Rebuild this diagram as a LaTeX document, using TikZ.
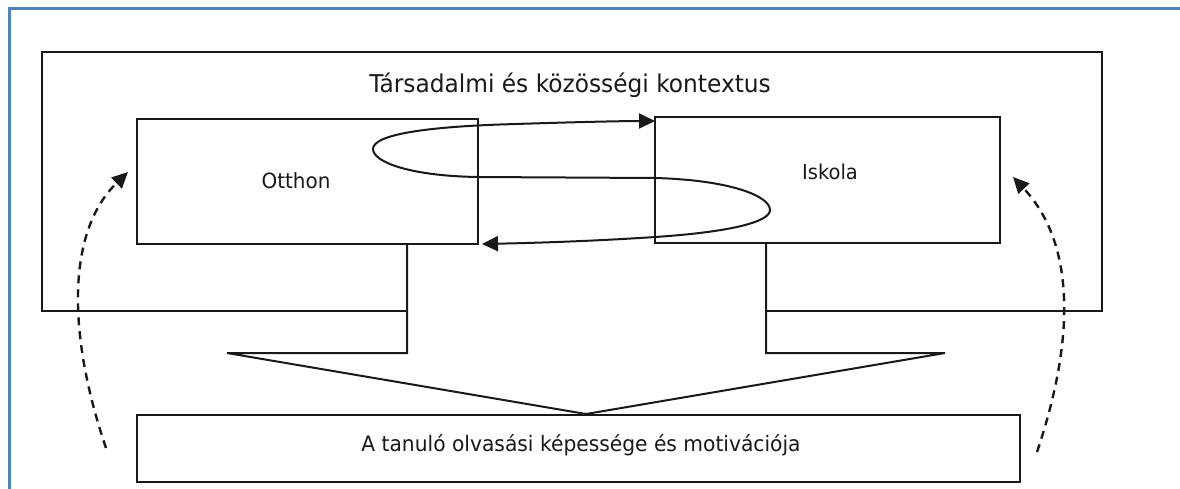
\documentclass[tikz,border=0pt]{standalone}
\usepackage{fontspec}
\setmainfont[FakeStretch=0.95]{DejaVu Sans}
\usetikzlibrary{arrows.meta}
\definecolor{frameblue}{RGB}{79,129,189}
\definecolor{ink}{RGB}{25,25,25}
\begin{document}
\begin{tikzpicture}[x=1pt,y=-1pt,
  box/.style={draw=ink, fill=white, line width=2pt, inner sep=0pt, rectangle},
  lbl/.style={anchor=base, inner sep=0pt, text=ink},
  link/.style={draw=ink, line width=2pt, {Triangle[length=16pt,width=15pt]}-{Triangle[length=16pt,width=15pt]}},
  influence/.style={draw=ink, line width=2.4pt, dash pattern=on 8pt off 6pt, -{Triangle[length=16pt,width=15pt]}},
  bigarrow/.style={draw=ink, line width=2pt, line join=miter}]
\useasboundingbox (0,0) rectangle (1180,488);
% page frame
\draw[frameblue, line width=3pt] (9,490) -- (9,8) -- (1182,8);
% outer context box
\node[box, minimum width=1060pt, minimum height=259pt] (outer) at (572,181.5) {};
\node[lbl, font=\fontsize{24.5}{28}\selectfont] (title) at (570,92) {Társadalmi és közösségi kontextus};
% big arrow to the pupil
\coordinate (sl) at (407,244);
\coordinate (sr) at (766,243);
\coordinate (kl) at (407,353);
\coordinate (wl) at (227,353);
\coordinate (apex) at (586,414);
\coordinate (wr) at (945,353);
\coordinate (kr) at (766,353);
\fill[white] (sl) -- (kl) -- (wl) -- (apex) -- (wr) -- (kr) -- (sr) -- cycle;
\draw[bigarrow] (sl) -- (kl) -- (wl) -- (apex) -- (wr) -- (kr) -- (sr);
% home and school
\node[box, minimum width=341pt, minimum height=125pt] (home) at (307.5,181.5) {};
\node[box, minimum width=345pt, minimum height=126pt] (school) at (827.5,180) {};
\node[lbl, font=\fontsize{21}{25}\selectfont] (homet) at (296,188) {Otthon};
\node[lbl, font=\fontsize{20.5}{24}\selectfont] (schoolt) at (830,179) {Iskola};
% pupil
\node[box, minimum width=883pt, minimum height=67pt] (pupil) at (578.5,448.5) {};
\node[lbl, font=\fontsize{21.3}{25}\selectfont] (pupilt) at (581,451) {A tanuló olvasási képessége és motivációja};
% reciprocal link
\coordinate (lstart) at (482,244);
\coordinate (lend) at (655,121);
\draw[link] (lstart) .. controls (580,242) and (640,238) .. (655,237)
  .. controls (730,232) and (770,222) .. (770,210)
  .. controls (770,196) and (730,180) .. (655,178)
  -- (478,177)
  .. controls (410,176) and (373,162) .. (373,149)
  .. controls (373,134) and (430,127) .. (500,124.5)
  .. controls (560,122.5) and (620,121) .. (lend);
% feedback arrows
\coordinate (fl) at (106,448);
\coordinate (fr) at (1037,452);
\draw[influence] (fl) .. controls (66,330) and (68,230) .. (128,172);
\draw[influence] (fr) .. controls (1078,330) and (1072,240) .. (1013,177);
\end{tikzpicture}
\end{document}
